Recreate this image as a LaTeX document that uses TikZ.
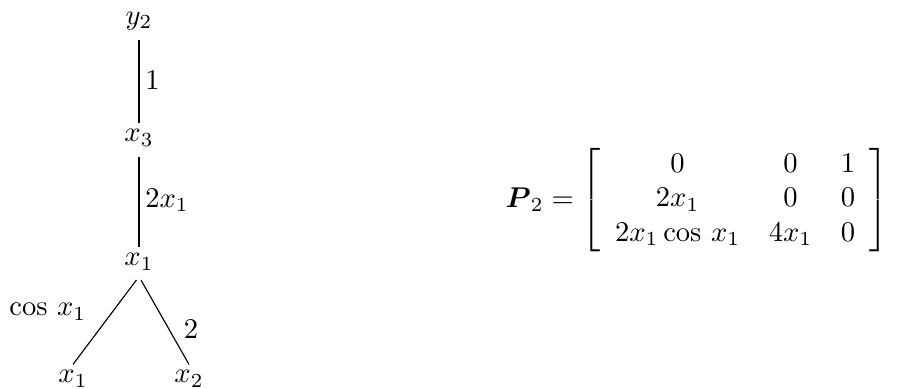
\documentclass[tikz,border=0pt]{standalone}
\usepackage{amsmath}
\usepackage{amssymb}
\usepackage{tikz}
\usetikzlibrary{positioning}
\tikzset{
  var/.style={inner sep=2pt, font=\normalsize},
  wt/.style={inner sep=2pt, font=\normalsize},
  edge/.style={draw=black, line width=0.4pt, shorten <=1.5pt}
}
\begin{document}
\begin{tikzpicture}[x=0.35pt,y=-0.35pt]
  \useasboundingbox (0,0) rectangle (900,389);
  % graph
  \node[var] (y2)  at (139,21)  {$y_2$};
  \node[var] (x3)  at (139,138) {$x_3$};
  \node[var] (x1)  at (139,262) {$x_1$};
  \node[var] (x1b) at (73,379)  {$x_1$};
  \node[var] (x2)  at (189,379) {$x_2$};
  \draw[edge] (y2.south) -- node[wt, right] {$1$} (x3.north);
  \draw[edge] (x3.south) -- node[wt, right] {$2x_1$} (x1.north);
  \draw[edge] (x1.south) -- node[wt, pos=0.4, left=7pt] {$\cos\,x_1$} (x1b.north);
  \draw[edge] (x1.south) -- node[wt, pos=0.6, right=3pt] {$2$} (x2.north);
  % matrix
  \node (P2) at (697,200) {$\boldsymbol{P}_2 = \left[\begin{array}{ccc}
      0 & 0 & 1\\
      2x_1 & 0 & 0\\
      2x_1\cos\,x_1 & 4x_1 & 0
    \end{array}\right]$};
\end{tikzpicture}
\end{document}
